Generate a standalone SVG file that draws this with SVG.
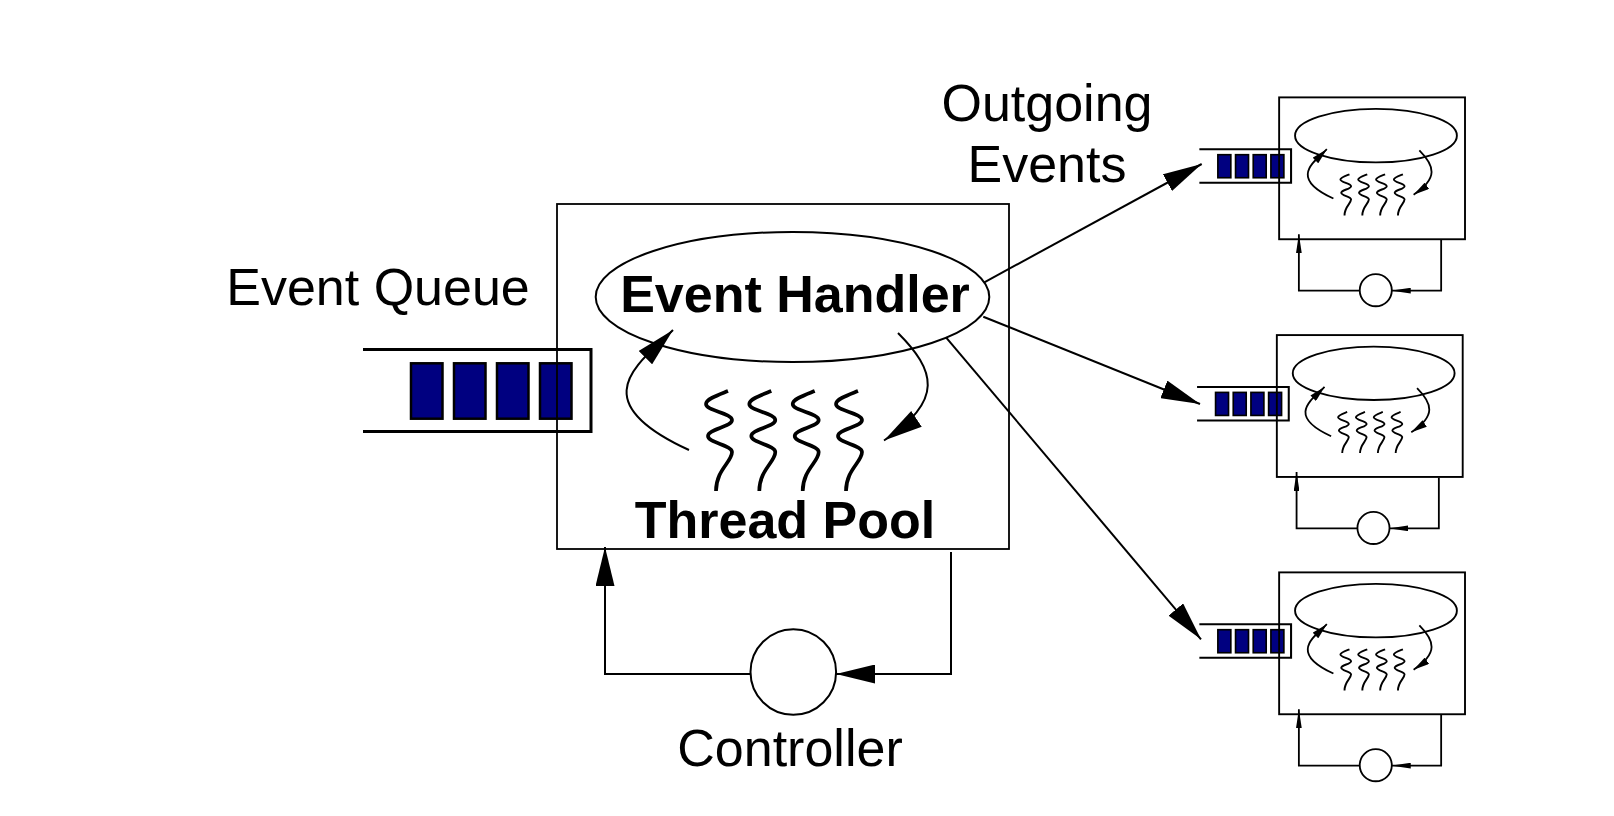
<svg xmlns="http://www.w3.org/2000/svg" xmlns:xlink="http://www.w3.org/1999/xlink" width="1614" height="816" viewBox="0 0 1614 816">
<style>
.lbl{font-family:"Liberation Sans",Arial,Helvetica,sans-serif;font-size:52px;fill:#000}
.bold{font-family:"Liberation Sans",Arial,Helvetica,sans-serif;font-size:52px;font-weight:bold;fill:#000}
.blk{fill:#000080;stroke:#000}
.ln{fill:none;stroke:#000}
</style>
<defs>
<marker id="ah" markerUnits="userSpaceOnUse" viewBox="0 0 39 19" refX="39" refY="9.5" markerWidth="39" markerHeight="19" orient="auto"><path d="M0,0 L39,9.5 L0,19 z" fill="#000" stroke="none"/></marker>
<marker id="ahs" markerUnits="userSpaceOnUse" viewBox="0 0 46 14" refX="46" refY="7" markerWidth="46" markerHeight="14" orient="auto"><path d="M0,0 L46,7 L0,14 z" fill="#000" stroke="none"/></marker>
<path id="threadp" d="M728 391 C718 395,706 399,706 404 C706 411,732 413,732 420 C732 427,708 429,708 436 C708 443,732 445,732 452 C732 462,716 470,716 491"/>
<g id="threads">
<use xlink:href="#threadp"/>
<use xlink:href="#threadp" x="43.3"/>
<use xlink:href="#threadp" x="86.7"/>
<use xlink:href="#threadp" x="130"/>
</g>
<g id="unit-body">
<path d="M363 330.3 H586 V411.5 H363" fill="none" stroke="#000" stroke-width="5"/>
<g fill="#000080" stroke="#000" stroke-width="4">
<rect x="408" y="343.4" width="31.5" height="56"/>
<rect x="451" y="343.4" width="31.5" height="56"/>
<rect x="494" y="343.4" width="31.5" height="56"/>
<rect x="537" y="343.4" width="31.5" height="56"/>
</g>
<rect x="557" y="204" width="452" height="345" fill="none" stroke="#000" stroke-width="4.6"/>
<ellipse cx="792.5" cy="297" rx="196.8" ry="65" fill="none" stroke="#000" stroke-width="4.6"/>
<path d="M689 450 C580 400,640 363,673 330" fill="none" stroke="#000" stroke-width="4.4" marker-end="url(#ah)"/>
<path d="M898 333 C935 370,945 400,884 440.5" fill="none" stroke="#000" stroke-width="4.4" marker-end="url(#ah)"/>
<use xlink:href="#threads" fill="none" stroke="#000" stroke-width="4.6"/>
<path d="M753 674 H605 V537" fill="none" stroke="#000" stroke-width="4.4" marker-end="url(#ahs)"/>
<path d="M951 551 V674 H831" fill="none" stroke="#000" stroke-width="4.4" marker-end="url(#ahs)"/>
<circle cx="792" cy="673" r="39" fill="none" stroke="#000" stroke-width="4.4"/>
</g>
</defs>
<rect x="0" y="0" width="1614" height="816" fill="#fff"/>

<g id="event-queue">
<path class="ln" d="M363 349.5 H591 V431.5 H363" stroke-width="3"/>
<rect class="blk" x="411" y="363.3" width="31.5" height="55.4" stroke-width="2.5"/>
<rect class="blk" x="454" y="363.3" width="31.5" height="55.4" stroke-width="2.5"/>
<rect class="blk" x="497" y="363.3" width="31.5" height="55.4" stroke-width="2.5"/>
<rect class="blk" x="540" y="363.3" width="31.5" height="55.4" stroke-width="2.5"/>
<text class="lbl" x="378" y="305" text-anchor="middle">Event Queue</text>
</g>

<g id="stage">
<rect class="ln" x="557" y="204" width="452" height="345" stroke-width="1.8"/>
<ellipse class="ln" cx="792.5" cy="297" rx="196.8" ry="65" stroke-width="2"/>
<text class="bold" x="795" y="312" text-anchor="middle">Event Handler</text>
<text class="bold" x="785" y="538" text-anchor="middle">Thread Pool</text>
<use xlink:href="#threads" fill="none" stroke="#000" stroke-width="3.7"/>
</g>

<g id="controller">
<circle class="ln" cx="793.3" cy="672" r="42.8" stroke-width="2"/>
<text class="lbl" x="790" y="766" text-anchor="middle">Controller</text>
</g>

<g id="worker-1"><use xlink:href="#unit-body" transform="translate(1050.1,13.5) scale(0.4112)"/></g>
<g id="worker-2"><use xlink:href="#unit-body" transform="translate(1047.8,251.2) scale(0.4112)"/></g>
<g id="worker-3"><use xlink:href="#unit-body" transform="translate(1050.1,488.5) scale(0.4112)"/></g>

<g id="outgoing-label">
<text class="lbl" x="1047" y="121" text-anchor="middle">Outgoing</text>
<text class="lbl" x="1047" y="182" text-anchor="middle">Events</text>
</g>

<g id="connectors" fill="none" stroke="#000" stroke-width="2">
<path d="M689 450 C580 400,640 363,673 330" marker-end="url(#ah)"/>
<path d="M898 333 C935 370,945 400,884 440.5" marker-end="url(#ah)"/>
<path d="M751 674 H605 V547" marker-end="url(#ah)"/>
<path d="M951 552 V674 H836" marker-end="url(#ah)"/>
<path d="M984.3 282.3 L1201.7 164" marker-end="url(#ah)"/>
<path d="M983.3 316.7 L1200 404" marker-end="url(#ah)"/>
<path d="M946 337.3 L1201 639.3" marker-end="url(#ah)"/>
</g>
</svg>
